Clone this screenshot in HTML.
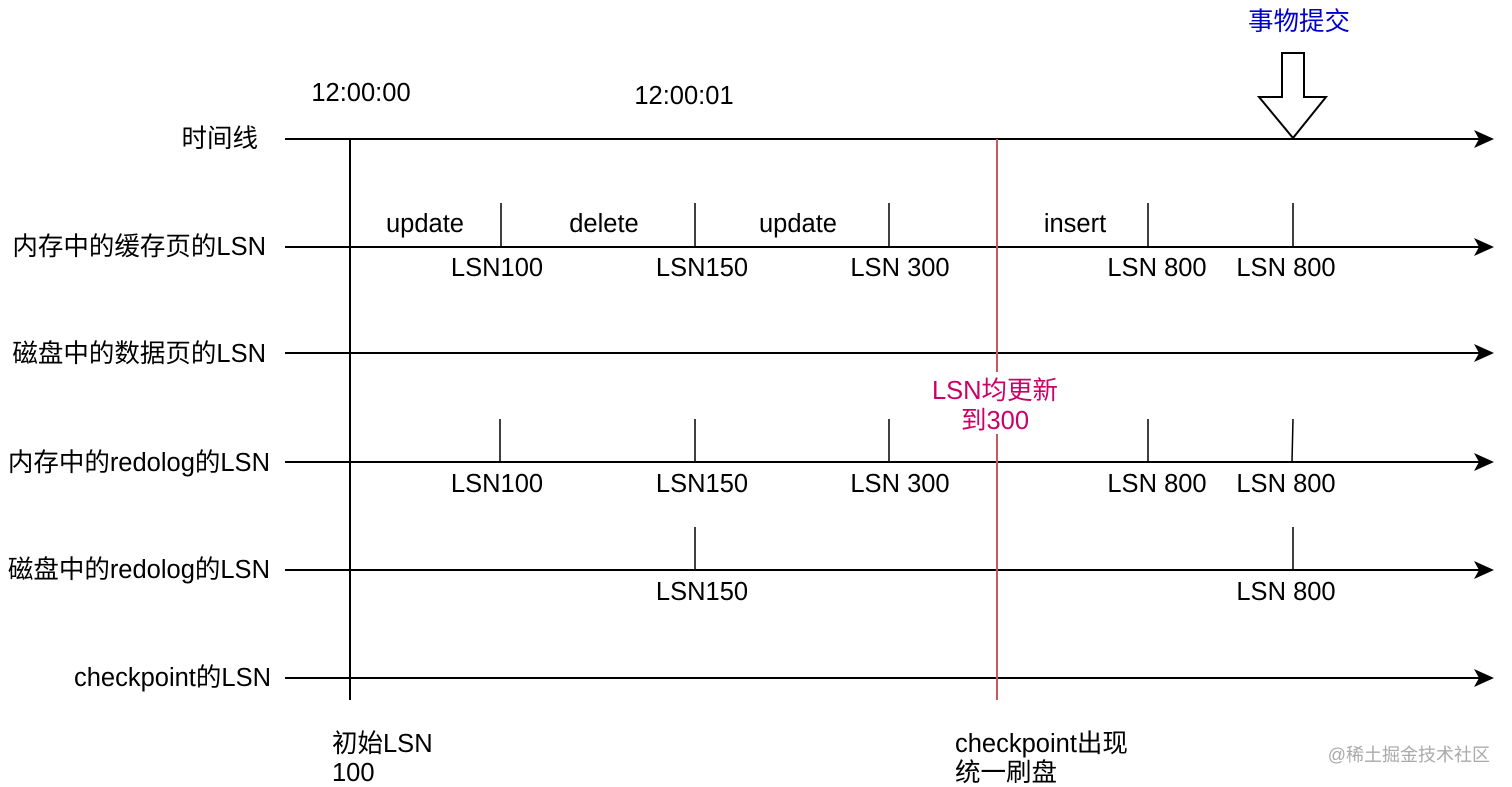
<!DOCTYPE html>
<html><head><meta charset="utf-8"><style>
html,body{margin:0;padding:0;background:#fff;}
svg{display:block;}
text{font-family:"Liberation Sans","Noto Sans CJK SC",sans-serif;font-size:25.5px;fill:#000;}
</style></head><body>
<svg width="1512" height="787" viewBox="0 0 1512 787" xmlns="http://www.w3.org/2000/svg">
<defs><marker id="a" markerWidth="20" markerHeight="18" refX="18" refY="9" orient="auto" markerUnits="userSpaceOnUse"><path d="M0,0 L20,9 L0,18 L5,9 Z" fill="#000"/></marker></defs>
<g stroke="#000" stroke-width="2">
<line x1="285" y1="139" x2="1492" y2="139" marker-end="url(#a)"/>
<line x1="285" y1="247" x2="1492" y2="247" marker-end="url(#a)"/>
<line x1="285" y1="353" x2="1492" y2="353" marker-end="url(#a)"/>
<line x1="285" y1="462" x2="1492" y2="462" marker-end="url(#a)"/>
<line x1="285" y1="570" x2="1492" y2="570" marker-end="url(#a)"/>
<line x1="285" y1="678" x2="1492" y2="678" marker-end="url(#a)"/>
<line x1="350" y1="139" x2="350" y2="700"/>
<g stroke-width="1.5">
<line x1="501" y1="203" x2="501" y2="247"/><line x1="695" y1="203" x2="695" y2="247"/><line x1="889" y1="203" x2="889" y2="247"/><line x1="1148" y1="203" x2="1148" y2="247"/><line x1="1293" y1="203" x2="1293" y2="247"/>
<line x1="500" y1="419" x2="500" y2="462"/><line x1="695" y1="419" x2="695" y2="462"/><line x1="889" y1="419" x2="889" y2="462"/><line x1="1148" y1="419" x2="1148" y2="462"/><line x1="1293" y1="419" x2="1292" y2="462"/>
<line x1="695" y1="527" x2="695" y2="570"/><line x1="1293" y1="527" x2="1293" y2="570"/>
</g>
</g>
<line x1="997" y1="139" x2="997" y2="700" stroke="#c9595d" stroke-width="2"/>
<rect x="920" y="372" width="150" height="62" fill="#fff"/>
<path d="M1282,53 L1304,53 L1304,97 L1326,97 L1293,138 L1259,97 L1282,97 Z" fill="#fff" stroke="#000" stroke-width="2"/>
<text x="1299" y="30" text-anchor="middle" style="fill:#0000cc">事物提交</text>
<text x="361" y="101" text-anchor="middle">12:00:00</text>
<text x="684" y="104" text-anchor="middle">12:00:01</text>
<g text-anchor="end">
<text x="258" y="147">时间线</text>
<text x="266" y="255">内存中的缓存页的LSN</text>
<text x="266" y="362">磁盘中的数据页的LSN</text>
<text x="270" y="471">内存中的redolog的LSN</text>
<text x="270" y="578">磁盘中的redolog的LSN</text>
<text x="271" y="686">checkpoint的LSN</text>
</g>
<g text-anchor="middle">
<text x="425" y="232">update</text><text x="604" y="232">delete</text><text x="798" y="232">update</text><text x="1075" y="232">insert</text>
<text x="497" y="276">LSN100</text><text x="702" y="276">LSN150</text><text x="900" y="276">LSN 300</text><text x="1157" y="276">LSN 800</text><text x="1286" y="276">LSN 800</text>
<text x="497" y="492">LSN100</text><text x="702" y="492">LSN150</text><text x="900" y="492">LSN 300</text><text x="1157" y="492">LSN 800</text><text x="1286" y="492">LSN 800</text>
<text x="702" y="600">LSN150</text><text x="1286" y="600">LSN 800</text>
<text x="995" y="399" style="fill:#cc0066">LSN均更新</text>
<text x="995" y="429" style="fill:#cc0066">到300</text>
</g>
<text x="332" y="752">初始LSN</text>
<text x="332" y="781">100</text>
<text x="955" y="752">checkpoint出现</text>
<text x="955" y="781">统一刷盘</text>
<text x="1490" y="761" text-anchor="end" style="font-size:18px;fill:#aaa">@稀土掘金技术社区</text>
</svg>
</body></html>
